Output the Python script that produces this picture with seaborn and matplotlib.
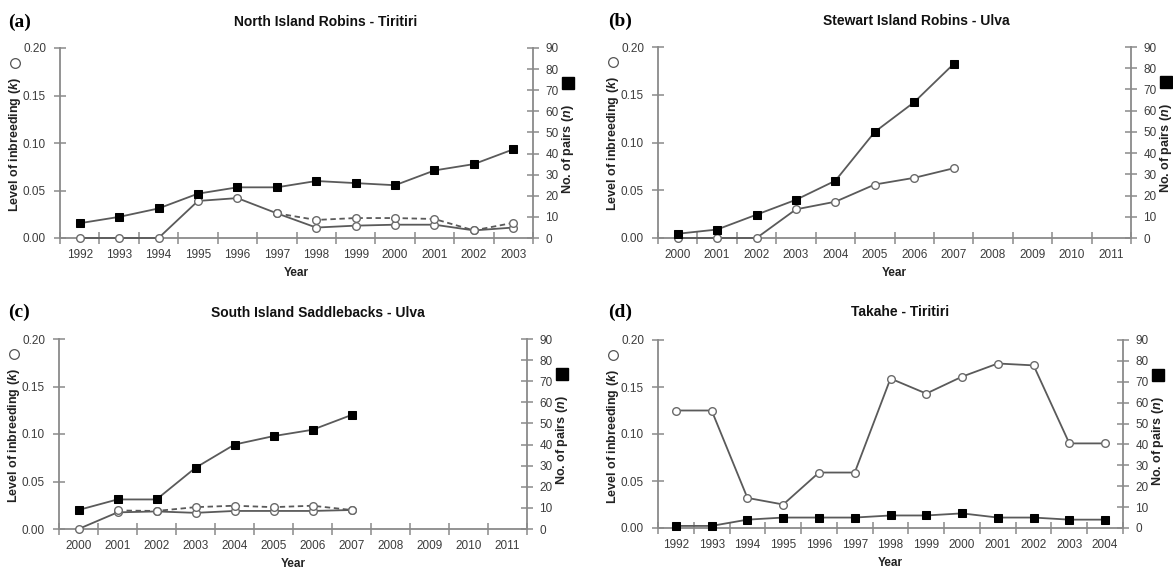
import numpy as np
import pandas as pd
import matplotlib
matplotlib.use("Agg")
import matplotlib.pyplot as plt
from matplotlib.lines import Line2D
import seaborn as sns

# ---- data -------------------------------------------------------------
years_a = [1992, 1993, 1994, 1995, 1996, 1997, 1998, 1999, 2000, 2001, 2002, 2003]
pairs_a = [7, 10, 14, 21, 24, 24, 27, 26, 25, 32, 35, 42]
k_a = [0.0, 0.0, 0.0, 0.039, 0.042, 0.026, 0.011, 0.013, 0.014, 0.014, 0.008, 0.011]
k_a_alt = [None, None, None, None, None, 0.026, 0.019, 0.021, 0.021, 0.020, 0.008, 0.016]

axis_years_b = [2000, 2001, 2002, 2003, 2004, 2005, 2006, 2007, 2008, 2009, 2010, 2011]
years_b = [2000, 2001, 2002, 2003, 2004, 2005, 2006, 2007]
pairs_b = [2, 4, 11, 18, 27, 50, 64, 82]
k_b = [0.0, 0.0, 0.0, 0.030, 0.038, 0.056, 0.063, 0.073]

axis_years_c = [2000, 2001, 2002, 2003, 2004, 2005, 2006, 2007, 2008, 2009, 2010, 2011]
years_c = [2000, 2001, 2002, 2003, 2004, 2005, 2006, 2007]
pairs_c = [9, 14, 14, 29, 40, 44, 47, 54]
k_c = [0.0, 0.0175, 0.0185, 0.017, 0.019, 0.019, 0.019, 0.020]
k_c_alt = [None, 0.0195, 0.019, 0.023, 0.0245, 0.023, 0.0245, 0.020]

years_d = [1992, 1993, 1994, 1995, 1996, 1997, 1998, 1999, 2000, 2001, 2002, 2003, 2004]
pairs_d = [1, 1, 4, 5, 5, 5, 6, 6, 7, 5, 5, 4, 4]
k_d = [0.125, 0.125, 0.032, 0.025, 0.059, 0.059, 0.159, 0.143, 0.161, 0.175, 0.173, 0.090, 0.090]

titles = ["North Island Robins - Tiritiri", "Stewart Island Robins - Ulva",
          "South Island Saddlebacks - Ulva", "Takahe - Tiritiri"]
letters = ["(a)", "(b)", "(c)", "(d)"]
k_ticks = [0.00, 0.05, 0.10, 0.15, 0.20]
n_ticks = [0, 10, 20, 30, 40, 50, 60, 70, 80, 90]

# ---- style ------------------------------------------------------------
sns.set_style("ticks")
plt.rcParams["font.family"] = ["Liberation Sans", "DejaVu Sans"]
plt.rcParams["mathtext.fontset"] = "custom"
plt.rcParams["mathtext.it"] = "Liberation Sans:bold:italic"
plt.rcParams["mathtext.rm"] = "Liberation Sans:bold"

W, H = 1173, 569
fig = plt.figure(figsize=(W / 100, H / 100), dpi=100)

SPINE = "#8a8a8a"
LINE = "#5a5a5a"
TXT = "#3c3c3c"


def fx(x):
    return x / W


def fy(y):
    return 1 - y / H


def make_axes(left, right, top, bottom):
    return fig.add_axes([fx(left), fy(bottom), (right - left) / W, (bottom - top) / H])


def style_panel(ax, ax2, axis_years):
    lo, hi = axis_years[0] - 0.5, axis_years[-1] + 0.5
    ax.set_xlim(lo, hi)
    ax.set_ylim(0, 0.2)
    ax2.set_ylim(0, 90)
    ax.set_xticks(axis_years)
    ax.set_xticklabels([str(y) for y in axis_years])
    ax.set_xticks(np.arange(lo, hi + 0.01, 1.0), minor=True)
    ax.tick_params(axis="x", which="major", length=0, pad=8, labelsize=8.5, labelcolor=TXT)
    ax.tick_params(axis="x", which="minor", direction="inout", length=8, width=1.1, color=SPINE)
    ax.set_yticks(k_ticks)
    ax.set_yticklabels([f"{v:.2f}" for v in k_ticks])
    ax.tick_params(axis="y", direction="inout", length=8, width=1.1, color=SPINE,
                   pad=6, labelsize=8.5, labelcolor=TXT)
    ax2.set_yticks(n_ticks)
    ax2.tick_params(axis="y", direction="inout", length=8, width=1.1, color=SPINE,
                    pad=5, labelsize=8.5, labelcolor=TXT)
    for a in (ax, ax2):
        a.spines["top"].set_visible(False)
        a.set_facecolor("none")
        for s in a.spines.values():
            s.set_color(SPINE)
            s.set_linewidth(1.3)
        a.set_ylabel("")
    ax.spines["right"].set_visible(False)
    ax2.spines["left"].set_visible(False)
    ax2.spines["bottom"].set_visible(False)
    ax.set_xlabel("Year", fontsize=8.5, fontweight="bold", labelpad=4, color="#222222")


def draw_k(ax, years, vals, dashed=False):
    df = pd.DataFrame({"year": years, "k": vals}).dropna()
    extra = {"dashes": (3, 2)} if dashed else {}
    sns.lineplot(data=df, x="year", y="k", ax=ax, color=LINE, lw=1.3,
                 marker="o", markersize=5.5, markerfacecolor="white",
                 markeredgecolor="#6a6a6a", markeredgewidth=1.0,
                 clip_on=False, zorder=3, **extra)


def draw_n(ax2, years, vals):
    df = pd.DataFrame({"year": years, "n": vals})
    sns.lineplot(data=df, x="year", y="n", ax=ax2, color=LINE, lw=1.3,
                 marker="s", markersize=5.5, markerfacecolor="black",
                 markeredgecolor="black", clip_on=False, zorder=4)


panels = [
    dict(box=(60, 533, 48, 238), axis_years=years_a,
         series=[(years_a, k_a, False), (years_a, k_a_alt, True)],
         pairs=(years_a, pairs_a), title_xy=(326, 22), letter_xy=(8, 22)),
    dict(box=(658, 1131, 47, 238), axis_years=axis_years_b,
         series=[(years_b, k_b, False)],
         pairs=(years_b, pairs_b), title_xy=(916, 21), letter_xy=(608, 21)),
    dict(box=(59, 527, 339, 529), axis_years=axis_years_c,
         series=[(years_c, k_c, False), (years_c, k_c_alt, True)],
         pairs=(years_c, pairs_c), title_xy=(318, 313), letter_xy=(8, 312)),
    dict(box=(658, 1123, 340, 528), axis_years=years_d,
         series=[(years_d, k_d, False)],
         pairs=(years_d, pairs_d), title_xy=(900, 312), letter_xy=(608, 312)),
]

for i, p in enumerate(panels):
    left, right, top, bottom = p["box"]
    ax = make_axes(left, right, top, bottom)
    for yrs, vals, dashed in p["series"]:
        draw_k(ax, yrs, vals, dashed)
    ax2 = ax.twinx()
    draw_n(ax2, *p["pairs"])
    style_panel(ax, ax2, p["axis_years"])

    # panel title and letter
    fig.text(fx(p["title_xy"][0]), fy(p["title_xy"][1]), titles[i], ha="center",
             va="center", fontsize=10, fontweight="bold", color="#111111")
    fig.text(fx(p["letter_xy"][0]), fy(p["letter_xy"][1]), letters[i], ha="left",
             va="center", fontsize=14, fontweight="bold", color="black",
             family=["Liberation Serif", "DejaVu Serif"])

    # left axis title with open-circle key
    lx = left - 45
    fig.text(fx(lx), fy(top + 97), r"Level of inbreeding ($k$)", rotation=90,
             ha="center", va="center", fontsize=9, fontweight="bold", color="#222222")
    fig.add_artist(Line2D([fx(lx)], [fy(top + 15)], transform=fig.transFigure,
                          marker="o", markersize=7, markerfacecolor="white",
                          markeredgecolor="#555555", markeredgewidth=0.9, linestyle="none"))

    # right axis title with filled-square key
    rx = right + 35
    fig.text(fx(rx), fy(top + 101), r"No. of pairs ($n$)", rotation=90,
             ha="center", va="center", fontsize=9, fontweight="bold", color="#222222")
    fig.add_artist(Line2D([fx(rx)], [fy(top + 35)], transform=fig.transFigure,
                          marker="s", markersize=8, markerfacecolor="black",
                          markeredgecolor="black", linestyle="none"))

fig.savefig("out.png", dpi=100, facecolor="white")
